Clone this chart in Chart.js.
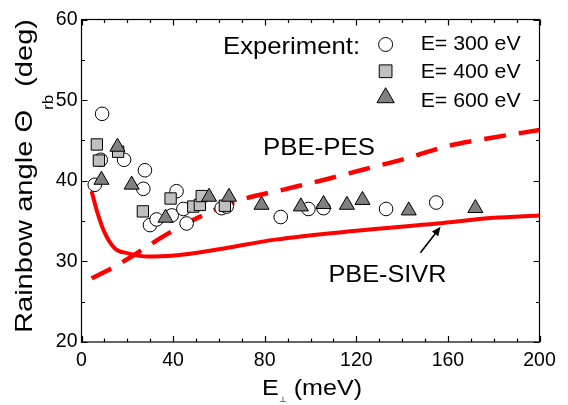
<!DOCTYPE html>
<html>
<head>
<meta charset="utf-8">
<script src="https://cdn.jsdelivr.net/npm/chart.js@4.4.0/dist/chart.umd.min.js"></script>
<style>
  html, body { margin: 0; padding: 0; background: #fff; }
  canvas { display: block; }
</style>
</head>
<body>
<canvas id="chart" width="568" height="405"></canvas>
<script>
const FONT = '"Liberation Sans", Arial, sans-serif';

// experiment, E = 300 eV (open circles)
const e300X = [5.8, 8.4, 9.0, 18.6, 27.0, 27.7, 29.9, 32.8, 39.4, 41.5, 44.5, 45.9, 61.2, 63.4, 87.0, 99.1, 105.7, 133.0, 154.9];
const e300Y = [39.5, 42.6, 48.3, 42.6, 39.0, 41.3, 34.5, 35.2, 35.7, 38.7, 36.5, 34.7, 36.6, 36.8, 35.5, 36.5, 36.6, 36.5, 37.3];

// experiment, E = 400 eV (light grey squares)
const e400X = [6.7, 7.6, 16.0, 26.8, 38.9, 48.8, 51.7, 52.5, 62.6];
const e400Y = [44.5, 42.5, 43.6, 36.2, 37.8, 36.8, 37.0, 38.1, 36.9];

// experiment, E = 600 eV (dark grey triangles)
const e600X = [8.7, 15.7, 21.9, 36.7, 55.7, 64.4, 78.6, 95.8, 105.7, 115.9, 122.7, 142.9, 172.0];
const e600Y = [40.1, 44.2, 39.5, 35.4, 38.0, 38.0, 37.0, 36.8, 37.1, 37.0, 37.6, 36.3, 36.6];

// theory curves
const sivrX = [4.4, 7.0, 10.2, 14.6, 20.4, 29.1, 39.4, 60.0, 84.6, 120.0, 155.3, 180.0, 200.0];
const sivrY = [38.7, 36.0, 33.5, 31.6, 31.0, 30.6, 30.7, 31.5, 32.7, 33.8, 34.7, 35.4, 35.7];
const pesX = [4.4, 11.6, 21.9, 35.7, 50.0, 69.3, 88.2, 105.7, 123.2, 142.2, 159.7, 178.6, 200.0];
const pesY = [27.9, 28.9, 30.6, 33.1, 35.3, 37.6, 38.9, 40.1, 41.4, 42.8, 44.3, 45.3, 46.3];

// axis ticks
const xTicks = [0, 40, 80, 120, 160, 200];
const yTicks = [20, 30, 40, 50, 60];

const xy = (xs, ys) => xs.map((v, i) => ({ x: v, y: ys[i] }));

// draws a row of text runs [{text, size, dy}] centred (or left aligned) at 0,0, stretched to width
function drawRuns(ctx, runs, width, align) {
  let natural = 0;
  runs.forEach(r => {
    ctx.font = r.size + 'px ' + FONT;
    r.w = ctx.measureText(r.text).width;
    natural += r.w;
  });
  const sx = width ? width / natural : 1;
  ctx.save();
  ctx.scale(sx, 1);
  let x = align === 'left' ? 0 : -natural / 2;
  ctx.textAlign = 'left';
  ctx.textBaseline = 'alphabetic';
  runs.forEach(r => {
    ctx.font = r.size + 'px ' + FONT;
    ctx.fillText(r.text, x, r.dy || 0);
    x += r.w;
  });
  ctx.restore();
}

const decor = {
  id: 'decor',
  afterDatasetsDraw(chart) {
    const { ctx, chartArea: a, scales: { x, y } } = chart;
    const px = v => x.getPixelForValue(v);
    const py = v => y.getPixelForValue(v);
    ctx.save();

    // frame and inward ticks on all four sides
    ctx.strokeStyle = '#000';
    ctx.lineWidth = 1.2;
    ctx.strokeRect(a.left, a.top, a.right - a.left, a.bottom - a.top);
    ctx.beginPath();
    for (let v = 0; v <= 200; v += 10) {
      const p = Math.round(px(v)) + 0.5;
      const len = v % 40 === 0 ? 6 : 3.5;
      ctx.moveTo(p, a.bottom); ctx.lineTo(p, a.bottom - len);
      ctx.moveTo(p, a.top); ctx.lineTo(p, a.top + len);
    }
    for (let v = 20; v <= 60; v += 5) {
      const p = Math.round(py(v)) + 0.5;
      const len = v % 10 === 0 ? 6 : 3.5;
      ctx.moveTo(a.left, p); ctx.lineTo(a.left + len, p);
      ctx.moveTo(a.right, p); ctx.lineTo(a.right - len, p);
    }
    ctx.stroke();

    ctx.fillStyle = '#000';

    // legend block
    ctx.save();
    ctx.translate(px(61.8), py(55.71));
    drawRuns(ctx, [{ text: 'Experiment:', size: 24 }], 137, 'left');
    ctx.restore();

    const rows = [
      { label: 'E= 300 eV', style: 'circle', r: 7, fill: '#ffffff', my: 56.9, ty: 56.19 },
      { label: 'E= 400 eV', style: 'rect', r: 9, fill: '#c0c0c0', my: 53.58, ty: 52.76 },
      { label: 'E= 600 eV', style: 'triangle', r: 10, fill: '#808080', my: 50.3, ty: 49.16 }
    ];
    rows.forEach(row => {
      ctx.fillStyle = row.fill;
      ctx.strokeStyle = '#000';
      ctx.lineWidth = 1;
      Chart.helpers.drawPoint(ctx, { pointStyle: row.style, radius: row.r, rotation: 0, borderWidth: 1 }, px(132.8), py(row.my));
      ctx.fillStyle = '#000';
      ctx.save();
      ctx.translate(px(148.1), py(row.ty));
      drawRuns(ctx, [{ text: row.label, size: 21 }], 100, 'left');
      ctx.restore();
    });

    // curve labels
    ctx.save();
    ctx.translate(px(103.7), py(43.23));
    drawRuns(ctx, [{ text: 'PBE-PES', size: 24 }], 112);
    ctx.restore();
    ctx.save();
    ctx.translate(px(133.6), py(27.49));
    drawRuns(ctx, [{ text: 'PBE-SIVR', size: 24 }], 118);
    ctx.restore();

    // arrow to the PBE-SIVR curve
    const x0 = px(148.0), y0 = py(31.06), x1 = px(156.8), y1 = py(34.29);
    const ang = Math.atan2(y1 - y0, x1 - x0);
    ctx.strokeStyle = '#000';
    ctx.lineWidth = 1.6;
    ctx.beginPath();
    ctx.moveTo(x0, y0);
    ctx.lineTo(x1 - 6 * Math.cos(ang), y1 - 6 * Math.sin(ang));
    ctx.stroke();
    ctx.beginPath();
    ctx.moveTo(x1, y1);
    ctx.lineTo(x1 - 9 * Math.cos(ang) + 4 * Math.sin(ang), y1 - 9 * Math.sin(ang) - 4 * Math.cos(ang));
    ctx.lineTo(x1 - 9 * Math.cos(ang) - 4 * Math.sin(ang), y1 - 9 * Math.sin(ang) + 4 * Math.cos(ang));
    ctx.closePath();
    ctx.fill();

    // axis titles
    ctx.save();
    ctx.translate((a.left + a.right) / 2 + 1.5, 395);
    drawRuns(ctx, [
      { text: 'E', size: 22 },
      { text: '\u22A5', size: 8, dy: 7 },
      { text: ' (meV)', size: 22 }
    ], 100);
    ctx.restore();

    ctx.save();
    ctx.translate(32, 176);
    ctx.rotate(-Math.PI / 2);
    drawRuns(ctx, [
      { text: 'Rainbow angle \u0398', size: 24 },
      { text: 'rb', size: 14, dy: 21 },
      { text: ' (deg)', size: 24 }
    ], 314);
    ctx.restore();

    ctx.restore();
  }
};

new Chart(document.getElementById('chart'), {
  type: 'scatter',
  data: {
    datasets: [
      {
        label: 'PBE-SIVR',
        data: xy(sivrX, sivrY),
        showLine: true,
        borderColor: '#ff0000',
        borderWidth: 4,
        pointRadius: 0,
        cubicInterpolationMode: 'monotone',
        order: 10
      },
      {
        label: 'PBE-PES',
        data: xy(pesX, pesY),
        showLine: true,
        borderColor: '#ff0000',
        borderWidth: 4.5,
        borderDash: [22, 13],
        pointRadius: 0,
        cubicInterpolationMode: 'monotone',
        order: 9
      },
      {
        label: 'E= 300 eV',
        data: xy(e300X, e300Y),
        pointStyle: 'circle',
        pointRadius: 6.8,
        backgroundColor: '#ffffff',
        borderColor: '#000000',
        borderWidth: 1,
        order: 3
      },
      {
        label: 'E= 400 eV',
        data: xy(e400X, e400Y),
        pointStyle: 'rect',
        pointRadius: 8,
        backgroundColor: '#c0c0c0',
        borderColor: '#000000',
        borderWidth: 1,
        order: 2
      },
      {
        label: 'E= 600 eV',
        data: xy(e600X, e600Y),
        pointStyle: 'triangle',
        pointRadius: 8.7,
        backgroundColor: '#808080',
        borderColor: '#000000',
        borderWidth: 1,
        order: 1
      }
    ]
  },
  options: {
    responsive: false,
    animation: false,
    devicePixelRatio: 1,
    layout: { padding: { top: 19.5, right: 28.5, left: 0, bottom: 0 } },
    plugins: { legend: { display: false }, tooltip: { enabled: false } },
    scales: {
      x: {
        type: 'linear',
        min: 0,
        max: 200,
        afterBuildTicks: s => { s.ticks = xTicks.map(v => ({ value: v })); },
        afterFit: s => { s.height = 63; },
        grid: { display: false, drawTicks: false },
        border: { display: false },
        ticks: { color: '#000', padding: 7, maxRotation: 0, font: { family: FONT, size: 19.5 } }
      },
      y: {
        type: 'linear',
        min: 20,
        max: 60,
        afterBuildTicks: s => { s.ticks = yTicks.map(v => ({ value: v })); },
        afterFit: s => { s.width = 81.5; },
        grid: { display: false, drawTicks: false },
        border: { display: false },
        ticks: { color: '#000', padding: 4, font: { family: FONT, size: 19.5 } }
      }
    }
  },
  plugins: [decor]
});
</script>
</body>
</html>
